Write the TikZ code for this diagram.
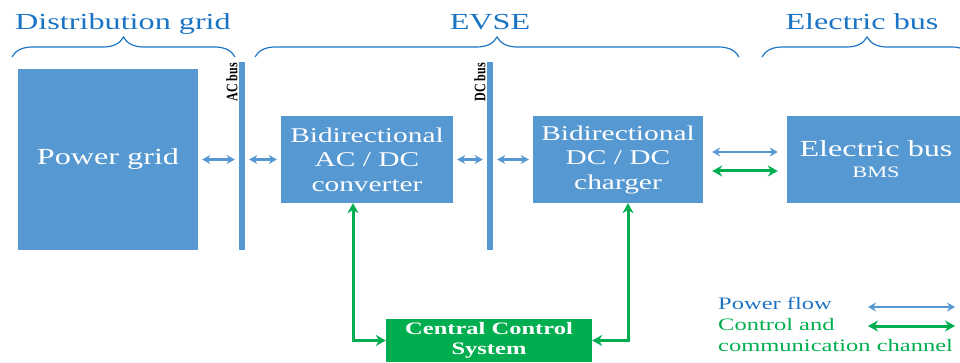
\documentclass[tikz,border=0pt]{standalone}
\usepackage{fontspec}
\setmainfont{Liberation Serif}[FakeStretch=1.4]
\newfontfamily\busfont{Liberation Serif}[FakeStretch=0.75]
\usetikzlibrary{arrows.meta, decorations.pathreplacing}
\definecolor{boxblue}{RGB}{86,152,210}
\definecolor{titleblue}{RGB}{28,117,196}
\definecolor{ctrlgreen}{RGB}{0,174,80}
\tikzstyle{title} = [anchor=base, inner sep=0pt, text=titleblue, font=\fontsize{23}{26}\selectfont]
\tikzstyle{bracket} = [draw=titleblue, line width=1.2pt, decorate, decoration={brace, amplitude=20pt}]
\tikzstyle{block} = [rectangle, minimum width=172pt, minimum height=87pt, inner sep=0pt, align=center, text=white, fill=boxblue, font=\fontsize{21}{24.5}\selectfont]
\tikzstyle{gridbox} = [block, minimum width=180pt, minimum height=181pt, font=\fontsize{23}{26}\selectfont]
\tikzstyle{bus} = [rectangle, minimum width=6pt, minimum height=188pt, inner sep=0pt, fill=boxblue]
\tikzstyle{buslabel} = [rotate=90, anchor=south east, inner sep=1pt, font=\busfont\bfseries\fontsize{16}{18}\selectfont]
\tikzstyle{ctrlbox} = [rectangle, minimum width=206pt, minimum height=43pt, inner sep=0pt, align=center, text=white, fill=ctrlgreen, font=\bfseries\fontsize{17.5}{20}\selectfont]
\tikzstyle{legend} = [anchor=base west, inner sep=0pt, font=\fontsize{17.5}{20.5}\selectfont]
\tikzstyle{power} = [line width=2.2pt, draw=boxblue, <->, >={Stealth[length=8pt, width=9pt]}]
\tikzstyle{control} = [line width=3pt, draw=ctrlgreen, <->, >={Stealth[length=10pt, width=11pt]}]

\begin{document}
\begin{tikzpicture}[x=1pt, y=-1pt, node distance=125pt]
    \useasboundingbox (0,0) rectangle (960,363);
    % headings and braces
    \node (tdist) [title] at (123,30) {Distribution grid};
    \node (tevse) [title] at (490,30) {EVSE};
    \node (tbus) [title] at (862,30) {Electric bus};
    \draw [bracket] (12,57) -- (235,57);
    \draw [bracket] (255,57) -- (739,57);
    \draw [bracket] (762,57) -- (972,57);

    % blocks
    \node (grid) [gridbox] at (108,159.5) {Power grid};
    \node (acbus) [bus, right of=grid, xshift=9pt, yshift=3.5pt] {};
    \node (conv) [block, right of=acbus, yshift=-3.5pt] {Bidirectional\\AC / DC\\converter};
    \node (dcbus) [bus, right of=conv, xshift=-2pt, yshift=3.5pt] {};
    \node (chg) [block, right of=dcbus, xshift=3pt, yshift=-3.5pt, minimum width=170pt] {Bidirectional\\DC / DC\\charger};
    \node (ebus) [block, right of=chg, xshift=133pt, minimum width=178pt, font=\fontsize{23}{21}\selectfont] {Electric bus\\{\fontsize{16}{21}\selectfont BMS}};
    \node (ccs) [ctrlbox, below of=dcbus, xshift=-1pt, yshift=-59.5pt] {Central Control\\System};
    \node (aclbl) [buslabel] at (acbus.north west) {AC bus};
    \node (dclbl) [buslabel] at (dcbus.north west) {DC bus};

    % power flow
    \begin{scope}[shorten >=4pt, shorten <=4pt]
        \draw [power] (grid.east) -- (grid.east -| acbus.west);
        \draw [power] (acbus.east |- conv.west) -- (conv.west);
        \draw [power] (conv.east) -- (conv.east -| dcbus.west);
        \draw [power] (dcbus.east |- chg.west) -- (chg.west);
    \end{scope}
    \draw [power, shorten >=9pt, shorten <=9pt] ([yshift=7.5pt]chg.east) -- ([yshift=7.5pt]ebus.west);
    \draw [control, shorten >=9pt, shorten <=9pt] ([yshift=-11.5pt]chg.east) -- ([yshift=-11.5pt]ebus.west);

    % control channel
    \draw [control] ([xshift=-14pt]conv.south) |- (ccs.west);
    \draw [control] ([xshift=10pt]chg.south) |- (ccs.east);

    % legend
    \node (lgpow) [legend, text=titleblue] at (718,309) {Power flow};
    \node (lgctl) [legend, text=ctrlgreen, align=left] at (718,351) {Control and\\communication channel};
    \coordinate (pa1) at (868,307);
    \coordinate (pa2) at (955,307);
    \coordinate (ca1) at (868,326);
    \coordinate (ca2) at (955,326);
    \draw [power] (pa1) -- (pa2);
    \draw [control] (ca1) -- (ca2);
\end{tikzpicture}
\end{document}
